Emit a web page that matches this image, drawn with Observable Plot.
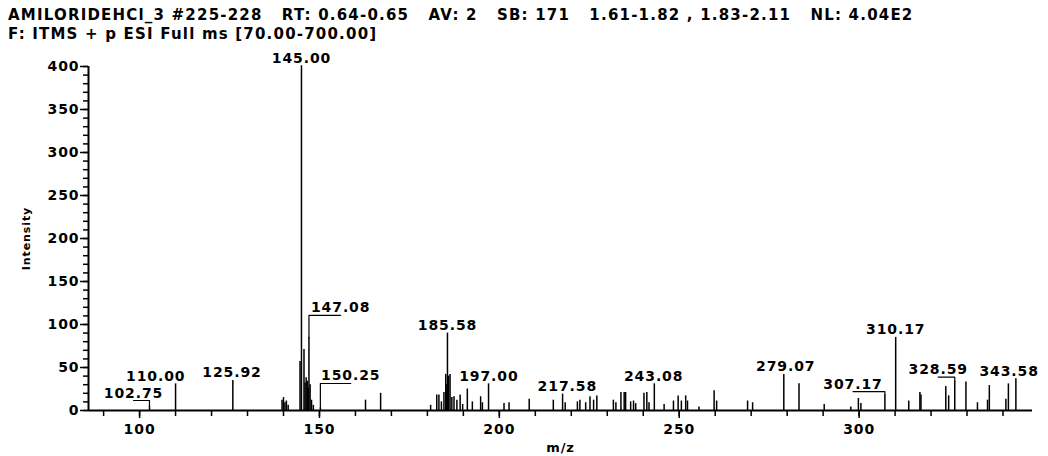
<!DOCTYPE html>
<html><head><meta charset="utf-8">
<script src="https://cdn.jsdelivr.net/npm/d3@7"></script>
<script src="https://cdn.jsdelivr.net/npm/@observablehq/plot@0.6"></script>
<style>
html,body{margin:0;padding:0;background:#fff;width:1048px;height:456px;overflow:hidden;}
#title{position:absolute;left:8px;top:6px;font:bold 15px "DejaVu Sans",sans-serif;letter-spacing:1.2px;line-height:19px;white-space:pre;color:#000;}
#chart{position:absolute;left:0;top:44px;}
#chart svg text{letter-spacing:0.9px;}
</style></head><body>
<div id="title"></div>
<div id="chart"></div>
<script>
// ---- data ----
const titleLines = [
  "AMILORIDEHCl_3 #225-228   RT: 0.64-0.65   AV: 2   SB: 171   1.61-1.82 , 1.83-2.11   NL: 4.04E2",
  "F: ITMS + p ESI Full ms [70.00-700.00]"
];
const xLabel = "m/z";
const yLabel = "Intensity";
const xMajorTicks = [100, 150, 200, 250, 300];
const xMinorTicks = [90,100,110,120,130,140,150,160,170,180,190,200,210,220,230,240,250,260,270,280,290,300,310,320,330,340];
const yMajorTicks = [0, 50, 100, 150, 200, 250, 300, 350, 400];
const yMinorTicks = [0,10,20,30,40,50,60,70,80,90,100,110,120,130,140,150,160,170,180,190,200,210,220,230,240,250,260,270,280,290,300,310,320,330,340,350,360,370,380,390,400];

const peakMz = [102.75,110.00,125.92,139.6,140.0,140.4,140.8,141.3,144.6,145.00,145.7,146.0,146.3,146.6,146.9,147.08,147.4,147.8,148.3,150.25,
  162.8,167.0,180.9,182.6,183.2,183.9,184.6,185.1,185.4,185.58,185.9,186.3,186.8,187.4,188.2,189.1,189.8,191.1,192.5,194.8,195.3,197.00,
  201.3,202.7,208.3,215.0,217.58,218.3,221.7,222.4,224.0,225.2,226.2,227.1,231.7,232.4,233.8,234.7,235.1,236.5,237.3,237.9,240.2,241.0,241.6,243.08,
  245.8,248.4,249.7,250.6,251.8,252.3,255.5,259.7,260.4,269.0,270.4,279.07,283.3,290.3,297.7,299.8,300.5,307.17,310.17,
  313.8,316.9,317.2,324.1,324.9,326.59,329.7,332.9,335.7,336.2,340.8,341.5,343.58];
const peakInt = [5,31,35,12,15,9,11,6,57,401,71,32,38,34,26,85,30,12,6,3,
  12,20,6,18,18,10,21,42,30,90,40,42,15,16,12,18,7,25,10,16,9,31,
  8,9,13,12,19,9,10,12,9,16,12,17,12,9,21,21,21,10,11,8,20,21,9,31,
  7,11,17,11,17,11,4,23,11,11,9,42,31,7,4,14,8,18,85,
  11,21,18,28,17,34,33,9,12,29,13,31,37];

const labelText    = ["102.75","110.00","125.92","145.00","147.08","150.25","185.58","197.00","217.58","243.08","279.07","307.17","310.17","328.59","343.58"];
const labelPeakMz  = [102.75,110.00,125.92,145.00,147.08,150.25,185.58,197.00,217.58,243.08,279.07,307.17,310.17,326.59,343.58];
const labelPeakInt = [5,31,35,401,85,3,90,31,19,31,42,18,85,34,37];
const labelAtMz    = [98.3,104.5,125.7,145.0,155.9,158.7,185.6,197.1,218.9,242.9,279.6,298.3,310.2,322.0,341.7];
const labelAtInt   = [11.6,31,35,401,110.5,31.4,90,31,19,31,42,22,85,38.7,37];
const hasLeader    = [1,0,0,0,1,1,0,0,0,0,0,1,0,1,0];

// ---- build tables ----
document.getElementById("title").textContent = titleLines.join("\n");
const peaks = peakMz.map((m, i) => ({mz: m, int: peakInt[i]}));
const labels = labelText.map((t, i) => ({t, x: labelAtMz[i], y: labelAtInt[i]}));
const leaders = [];
labelText.forEach((t, i) => {
  if (!hasLeader[i]) return;
  leaders.push({k: t, x: labelPeakMz[i], y: labelPeakInt[i]});
  leaders.push({k: t, x: labelPeakMz[i], y: labelAtInt[i]});
  leaders.push({k: t, x: labelAtMz[i], y: labelAtInt[i]});
});
const xDomain = [85.8, 348.2];

const chart = Plot.plot({
  width: 1048, height: 412,
  marginLeft: 88, marginRight: 16, marginTop: 22, marginBottom: 46,
  x: {domain: xDomain},
  y: {domain: [0, 400]},
  style: {fontFamily: '"DejaVu Sans", sans-serif', fontSize: "14px", fontWeight: "bold", color: "#000", background: "#fff", overflow: "visible"},
  marks: [
    Plot.ruleX(peaks, {x: "mz", y1: 0, y2: "int", stroke: "#000", strokeWidth: 1.5}),
    Plot.line(leaders, {x: "x", y: "y", z: "k", stroke: "#000", strokeWidth: 1.2}),
    Plot.text(labels, {x: "x", y: "y", text: "t", lineAnchor: "bottom", dy: -3, fontSize: 14, fontWeight: "bold", fill: "#000"}),
    Plot.axisX({ticks: xMinorTicks, tickSize: 6, tickFormat: () => "", label: null, strokeWidth: 1.5}),
    Plot.axisX({ticks: xMajorTicks, tickSize: 8, tickPadding: 6, label: null, strokeWidth: 1.5}),
    Plot.axisY({ticks: yMinorTicks, tickSize: 5, tickFormat: () => "", label: null, strokeWidth: 1.5}),
    Plot.axisY({ticks: yMajorTicks, tickSize: 8, tickPadding: 1, label: null, strokeWidth: 1.5}),
    Plot.ruleY([0], {stroke: "#000", strokeWidth: 2}),
    Plot.ruleX([xDomain[0]], {y1: 0, y2: 400, stroke: "#000", strokeWidth: 2}),
    Plot.text([xLabel], {frameAnchor: "bottom", dy: 37, lineAnchor: "middle", textAnchor: "middle", fontSize: 13, fontWeight: "bold"}),
    Plot.text([yLabel], {frameAnchor: "left", dx: -62, rotate: -90, textAnchor: "middle", lineAnchor: "middle", fontSize: 11, fontWeight: "bold"})
  ]
});
document.getElementById("chart").appendChild(chart);
</script>
</body></html>
